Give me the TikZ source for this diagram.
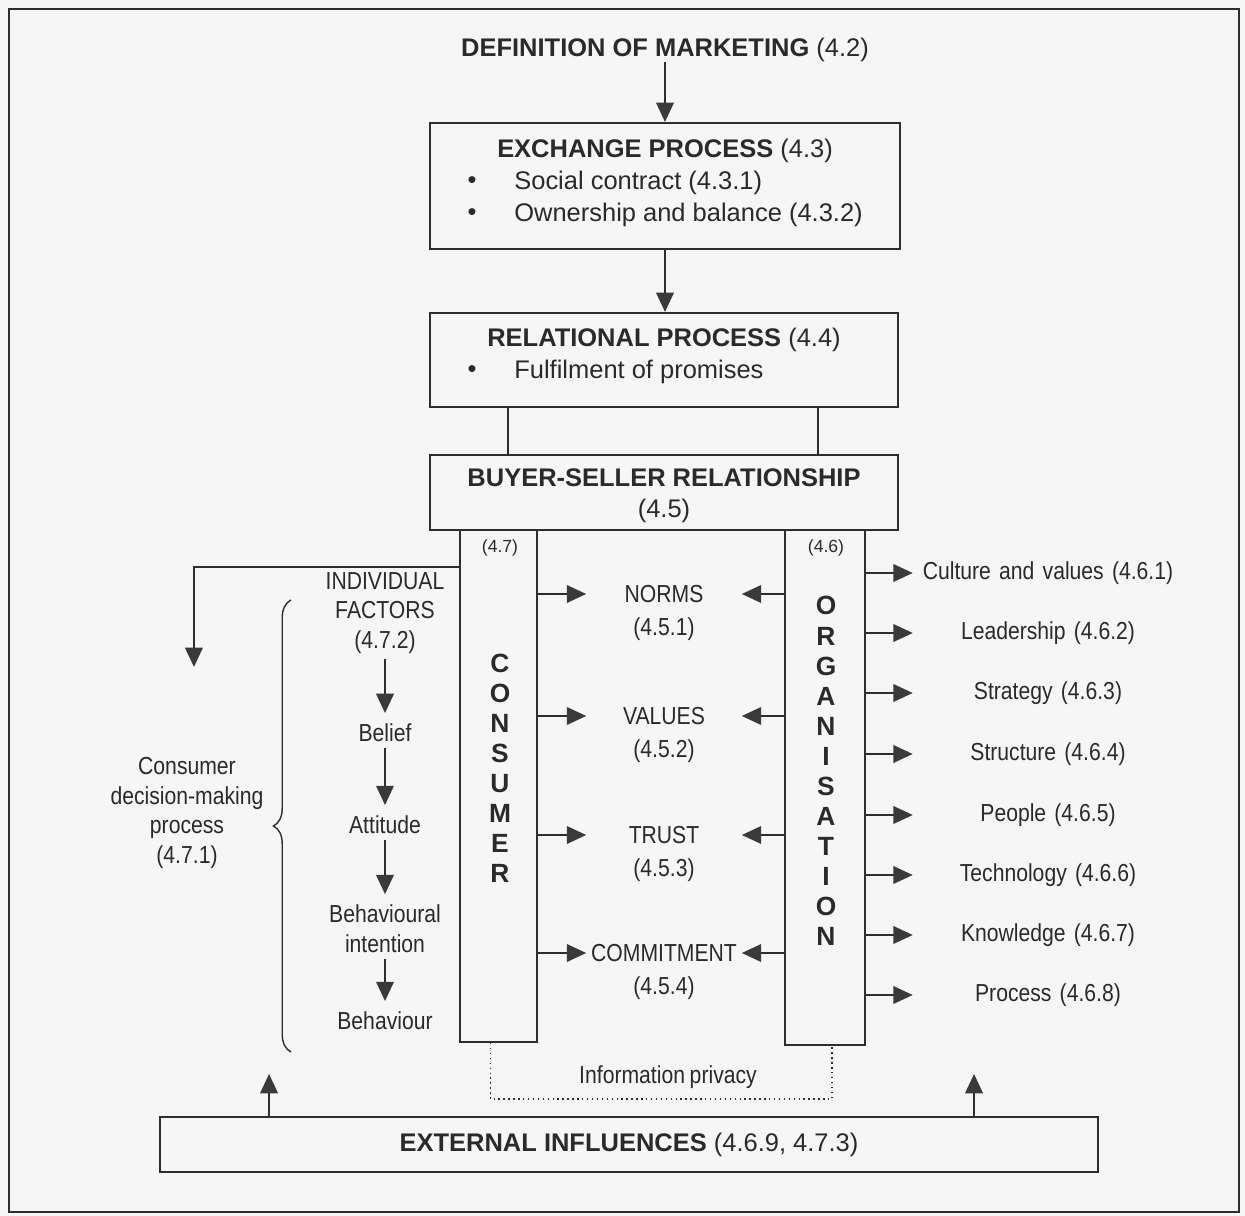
\documentclass[tikz,border=0pt]{standalone}
\usepackage{fontspec}
\setmainfont{Liberation Sans}
\newfontfamily\narrowfont[FakeStretch=0.86, WordSpace=0.8]{Liberation Sans}
\usetikzlibrary{positioning, arrows.meta, decorations.pathreplacing, calc}
\definecolor{clrline}{HTML}{2E2E2E}
\definecolor{clrtip}{HTML}{3A3A3A}
\definecolor{clrtext}{HTML}{2A2A2A}
\definecolor{clrpaper}{HTML}{F6F6F6}

\begin{document}
\begin{tikzpicture}[
    x=0.02cm, y=-0.02cm,
    >={Triangle[length=11pt, width=10pt, color=clrtip]},
    every node/.style={text=clrtext, inner sep=0pt},
    box/.style={draw=clrline, line width=1.2pt, inner sep=0pt},
    body/.style={font=\fontsize{14.5}{17.5}\selectfont, align=center},
    slim/.style={font=\narrowfont\fontsize{14}{17}\selectfont, align=center},
    tiny/.style={font=\fontsize{10}{12}\selectfont},
    letters/.style={font=\bfseries\fontsize{15}{17.1}\selectfont, align=center},
    arrow/.style={->, draw=clrline, line width=1.1pt},
    chain/.style={->, draw=clrline, line width=1.1pt, shorten >=6pt, shorten <=3pt},
    centre/.style={slim, text width=3.1cm},
    aspect/.style={slim, text width=5.4cm},
]
\fill[clrpaper] (0,0) rectangle (1245,1216);
\useasboundingbox (0,0) rectangle (1245,1216);
\draw[clrline, line width=1.1pt] (9,9) rectangle (1239,1212);
% top of the chain
\node[body] (def) at (665,50) {\textbf{DEFINITION OF MARKETING} (4.2)};
\node[box, minimum width=9.4cm, minimum height=2.52cm] (exch) at (665,186) {};
\node[body] (exch_t) at (665,151) {\textbf{EXCHANGE PROCESS} (4.3)};
\node[body] (exch_b1) at (472,183) {\textbullet};
\node[body, anchor=west] (exch_1) at (514,183) {Social contract (4.3.1)};
\node[body] (exch_b2) at (472,215) {\textbullet};
\node[body, anchor=west] (exch_2) at (514,215) {Ownership and balance (4.3.2)};
\node[box, minimum width=9.36cm, minimum height=1.88cm] (rel) at (664,360) {};
\node[body] (rel_t) at (664,340) {\textbf{RELATIONAL PROCESS} (4.4)};
\node[body] (rel_b1) at (472,372) {\textbullet};
\node[body, anchor=west] (rel_1) at (514,372) {Fulfilment of promises};
\node[box, minimum width=9.36cm, minimum height=1.5cm] (bsr) at (664,492.5) {};
\node[body, font=\fontsize{14.5}{17.6}\selectfont] (bsr_t) at (664,496) {\textbf{BUYER-SELLER RELATIONSHIP}\\(4.5)};
\draw[arrow] (def.south) -- (exch.north);
\draw[arrow] (exch.south) -- (exch.south |- rel.north);
\draw[clrline, line width=1.1pt] ($(rel.south)+(-156,0)$) -- ($(bsr.north)+(-156,0)$);
\draw[clrline, line width=1.1pt] ($(rel.south)+(154,0)$) -- ($(bsr.north)+(154,0)$);
% the two columns
\node[box, minimum width=1.54cm, minimum height=10.24cm] (cons) at (498.5,786) {};
\node[box, minimum width=1.6cm, minimum height=10.3cm] (org) at (825,787.5) {};
\node[tiny] (cons_n) at (500,548) {(4.7)};
\node[tiny] (org_n) at (826,548) {(4.6)};
\node[letters] (cons_t) at (500,768) {C\\O\\N\\S\\U\\M\\E\\R};
\node[letters] (org_t) at (826,771) {O\\R\\G\\A\\N\\I\\S\\A\\T\\I\\O\\N};
% relationship elements
\node[centre] (norms) at (664,594) {NORMS};
\node[slim, below=8pt of norms] (norms_n) {(4.5.1)};
\node[centre] (values) at (664,716) {VALUES};
\node[slim, below=8pt of values] (values_n) {(4.5.2)};
\node[centre] (trust) at (664,835) {TRUST};
\node[slim, below=8pt of trust] (trust_n) {(4.5.3)};
\node[centre] (commit) at (664,953) {COMMITMENT};
\node[slim, below=8pt of commit] (commit_n) {(4.5.4)};
\draw[arrow] (cons.east |- norms.west) -- (norms.west);
\draw[arrow] (cons.east |- values.west) -- (values.west);
\draw[arrow] (cons.east |- trust.west) -- (trust.west);
\draw[arrow] (cons.east |- commit.west) -- (commit.west);
\draw[arrow] (org.west |- norms.east) -- (norms.east);
\draw[arrow] (org.west |- values.east) -- (values.east);
\draw[arrow] (org.west |- trust.east) -- (trust.east);
\draw[arrow] (org.west |- commit.east) -- (commit.east);
% organisation aspects
\node[aspect] (asp_1) at (1048,573) {Culture and values (4.6.1)};
\node[aspect] (asp_2) at (1048,633) {Leadership (4.6.2)};
\node[aspect] (asp_3) at (1048,693) {Strategy (4.6.3)};
\node[aspect] (asp_4) at (1048,754) {Structure (4.6.4)};
\node[aspect] (asp_5) at (1048,815) {People (4.6.5)};
\node[aspect] (asp_6) at (1048,875) {Technology (4.6.6)};
\node[aspect] (asp_7) at (1048,935) {Knowledge (4.6.7)};
\node[aspect] (asp_8) at (1048,995) {Process (4.6.8)};
\draw[arrow] (org.east |- asp_1.west) -- (asp_1.west);
\draw[arrow] (org.east |- asp_2.west) -- (asp_2.west);
\draw[arrow] (org.east |- asp_3.west) -- (asp_3.west);
\draw[arrow] (org.east |- asp_4.west) -- (asp_4.west);
\draw[arrow] (org.east |- asp_5.west) -- (asp_5.west);
\draw[arrow] (org.east |- asp_6.west) -- (asp_6.west);
\draw[arrow] (org.east |- asp_7.west) -- (asp_7.west);
\draw[arrow] (org.east |- asp_8.west) -- (asp_8.west);
% consumer side
\node[slim] (indiv) at (385,613) {INDIVIDUAL\\FACTORS\\(4.7.2)};
\node[slim] (belief) at (385,733) {Belief};
\node[slim] (attitude) at (385,825) {Attitude};
\node[slim] (intent) at (385,929) {Behavioural\\intention};
\node[slim] (behav) at (385,1021) {Behaviour};
\draw[chain] (indiv.south) -- (belief.north);
\draw[chain] (belief.south) -- (attitude.north);
\draw[chain] (attitude.south) -- (intent.north);
\draw[chain] (intent.south) -- (behav.north);
\draw[arrow] ($(cons.north west)+(0,38)$) -- ++(-265,0) -- ++(0,100);
\draw[clrline, line width=0.8pt, decorate, decoration={brace, amplitude=10pt}] (291,1052) -- (291,600);
\node[slim] (cdm) at (187,813) {Consumer\\decision-making\\process\\(4.7.1)};
% information privacy link
\draw[clrline, line width=0.8pt, dotted] ($(cons.south)+(-8,0)$) -- ++(0,56) -| ($(org.south)+(7,0)$);
\node[slim] (privacy) at (668,1077) {Information privacy};
% external influences
\node[box, minimum width=18.76cm, minimum height=1.1cm, body] (ext) at (629,1144.5) {\textbf{EXTERNAL INFLUENCES} (4.6.9, 4.7.3)};
\draw[arrow] ($(ext.north west)+(110,0)$) -- ++(0,-42);
\draw[arrow] ($(ext.north west)+(815,0)$) -- ++(0,-42);
\end{tikzpicture}
\end{document}
